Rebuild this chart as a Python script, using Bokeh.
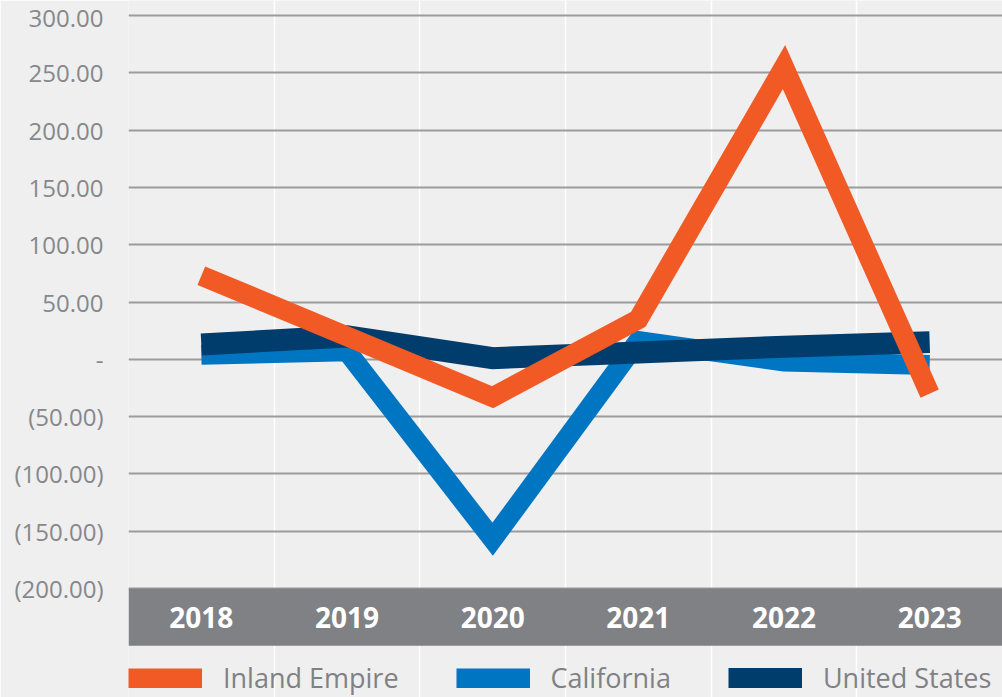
from bokeh.plotting import figure
from bokeh.models import (Range1d, FixedTicker, CustomJSTickFormatter, BoxAnnotation,
                          Legend, LegendItem, ColumnDataSource)
from bokeh.core.properties import value
from bokeh.embed import file_html
from bokeh.resources import INLINE

years = ["2018", "2019", "2020", "2021", "2022", "2023"]
inland_empire = [73, 20, -33, 35, 255, -30]
california = [4, 7, -157, 16, -2, -5]
united_states = [13, 20, 1, 6, 11, 15]
y_ticks = [-200, -150, -100, -50, 0, 50, 100, 150, 200, 250, 300]
y_tick_labels = ["(200.00)", "(150.00)", "(100.00)", "(50.00)", "-", "50.00",
                 "100.00", "150.00", "200.00", "250.00", "300.00"]
series_names = ["Inland Empire", "California", "United States"]

BG = "#EFEFEF"
GREY_TEXT = "#86888b"
FONT = "Open Sans"

idx = list(range(len(years)))
src = ColumnDataSource(dict(x=idx, year=years, ie=inland_empire, ca=california, us=united_states))

p = figure(width=1002, height=697, output_backend="svg", toolbar_location=None,
           x_range=Range1d(-0.5, len(years) - 0.5), y_range=Range1d(-295.1, 313.1),
           x_axis_location=None,
           min_border_left=128, min_border_right=0, min_border_top=0, min_border_bottom=0,
           background_fill_color=BG, border_fill_color=BG, outline_line_color=None)

# y axis
yax = p.yaxis[0]
yax.ticker = FixedTicker(ticks=y_ticks)
yax.formatter = CustomJSTickFormatter(args=dict(tvals=y_ticks, tlabs=y_tick_labels), code="""
const i = tvals.indexOf(tick);
return i >= 0 ? tlabs[i] : "";
""")
yax.axis_line_color = None
yax.major_tick_line_color = None
yax.minor_tick_line_color = None
yax.major_tick_out = 0
yax.major_tick_in = 0
yax.major_label_standoff = 25
yax.major_label_text_font = FONT
yax.major_label_text_font_size = "24px"
yax.major_label_text_color = GREY_TEXT

# grids
p.ygrid.ticker = FixedTicker(ticks=y_ticks)
p.ygrid.grid_line_color = "#9c9c9c"
p.ygrid.grid_line_width = 1.8
p.xgrid.ticker = FixedTicker(ticks=[i + 0.5 for i in idx[:-1]])
p.xgrid.grid_line_color = "white"
p.xgrid.grid_line_width = 1.5
p.xgrid.bounds = (y_ticks[0], y_ticks[-1])

# category band
band_top = y_ticks[0]
band_bottom = band_top - 50
p.add_layout(BoxAnnotation(bottom=band_bottom, top=band_top, fill_color="#808184",
                           fill_alpha=1.0, line_color=None, level="underlay"))
p.text(x="x", y=(band_top + band_bottom) / 2, text="year", source=src,
       text_align="center", text_baseline="middle", text_color="white",
       text_font=value(FONT), text_font_size="28px", text_font_style="bold")

# lines
r_ca = p.line("x", "ca", source=src, line_color="#0075c2", line_width=20,
              line_join="miter", line_cap="butt")
r_us = p.line("x", "us", source=src, line_color="#003d6d", line_width=22,
              line_join="miter", line_cap="butt")
r_ie = p.line("x", "ie", source=src, line_color="#f15a24", line_width=20,
              line_join="miter", line_cap="butt")

legend = Legend(items=[LegendItem(label=series_names[0], renderers=[r_ie]),
                       LegendItem(label=series_names[1], renderers=[r_ca]),
                       LegendItem(label=series_names[2], renderers=[r_us])],
                orientation="horizontal", location=(0, 1),
                glyph_width=74, glyph_height=20, label_standoff=21, spacing=57,
                padding=0, margin=0, border_line_color=None, background_fill_alpha=0,
                label_text_font=FONT, label_text_font_size="27px",
                label_text_color="#7f8184")
p.add_layout(legend, "center")

open("out.html", "w").write(file_html(p, INLINE))
